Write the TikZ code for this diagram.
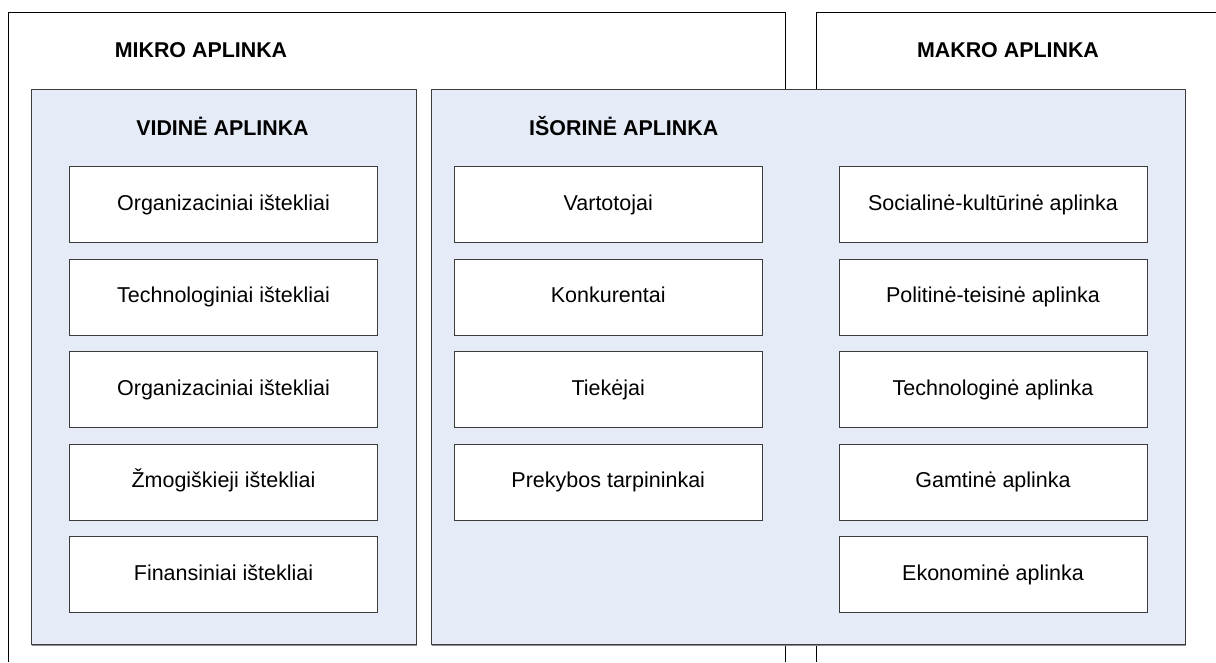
\documentclass[tikz,border=0pt]{standalone}
\usepackage{fontspec}
\setmainfont{Liberation Sans}
\definecolor{panelfill}{RGB}{230,236,247}
\definecolor{panelline}{RGB}{60,60,60}
\begin{document}
\begin{tikzpicture}[x=1pt,y=-1pt,
  outerline/.style={draw=black,line width=1pt},
  panel/.style={draw=panelline,fill=panelfill,line width=1pt},
  itembox/.style={draw=panelline,fill=white,line width=1pt,rectangle,
    minimum width=308pt,minimum height=76pt,inner sep=0pt,
    text height=15pt,text depth=4pt,
    font=\fontsize{21.5}{25}\selectfont},
  heading/.style={anchor=base,inner sep=0pt,font=\fontsize{21.4}{25}\selectfont\bfseries}]
\useasboundingbox (0,0) rectangle (1216,662);
\fill[white] (0,0) rectangle (1216,662);
% outer environments
\draw[outerline] (8.5,662) -- (8.5,12) -- (785.5,12) -- (785.5,662);
\draw[outerline] (816,662) -- (816,12) -- (1216,12);
% panels
\draw[panel] (31.5,89) rectangle (416.5,644);
\draw[panel] (431.5,89) rectangle (1185,644);
\draw[draw=black!45,line width=1pt] (32,645) -- (417,645);
\draw[draw=black!45,line width=1pt] (432,645) -- (1185.5,645);
% headings
\node[heading] (mikro) at (201,57.7) {MIKRO APLINKA};
\node[heading] (makro) at (1008,57.7) {MAKRO APLINKA};
\node[heading] (vidine) at (222.5,135) {VIDINĖ APLINKA};
\node[heading] (isorine) at (623.7,135) {IŠORINĖ APLINKA};
% column 1
\node[itembox] (v1) at (223.5,204.7) {Organizaciniai ištekliai};
\node[itembox] (v2) at (223.5,297.2) {Technologiniai ištekliai};
\node[itembox] (v3) at (223.5,389.7) {Organizaciniai ištekliai};
\node[itembox] (v4) at (223.5,482.2) {Žmogiškieji ištekliai};
\node[itembox] (v5) at (223.5,574.7) {Finansiniai ištekliai};
% column 2
\node[itembox] (i1) at (608.25,204.7) {Vartotojai};
\node[itembox] (i2) at (608.25,297.2) {Konkurentai};
\node[itembox] (i3) at (608.25,389.7) {Tiekėjai};
\node[itembox] (i4) at (608.25,482.2) {Prekybos tarpininkai};
% column 3
\node[itembox] (m1) at (993,204.7) {Socialinė-kultūrinė aplinka};
\node[itembox] (m2) at (993,297.2) {Politinė-teisinė aplinka};
\node[itembox] (m3) at (993,389.7) {Technologinė aplinka};
\node[itembox] (m4) at (993,482.2) {Gamtinė aplinka};
\node[itembox] (m5) at (993,574.7) {Ekonominė aplinka};
\end{tikzpicture}
\end{document}
